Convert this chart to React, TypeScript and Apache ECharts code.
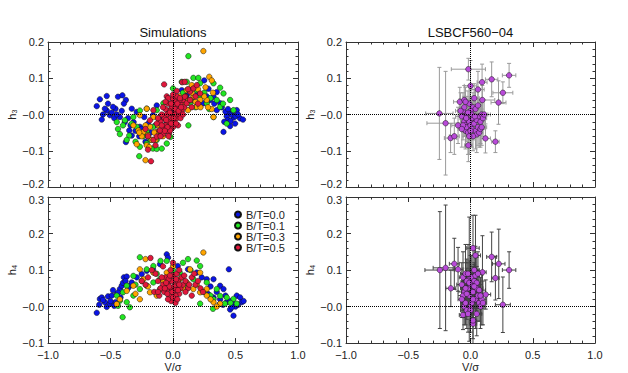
import React, { useEffect, useRef } from "react";
import * as echarts from "echarts";

type P = [number, number];
type E = [number, number, number, number];

const seriesNames = ["B/T=0.0", "B/T=0.1", "B/T=0.3", "B/T=0.5"];
const seriesColors = ["#0a14e6", "#22e622", "#ffa500", "#e0183c"];
const obsColor = "#b84ad8";
const xTicks = [-1, -0.5, 0, 0.5, 1];
const h3Range = [-0.2, 0.2];
const h4Range = [-0.1, 0.3];

// ---- Simulations: h3 vs V/sigma ----
const blueH3: P[] = [
  [-0.61, 0.023], [-0.585, 0.042], [-0.53, 0.051], [-0.44, 0.049], [-0.405, 0.053], [-0.377, 0.04], [-0.393, 0.03],
  [-0.46, 0.016], [-0.53, 0.011], [-0.56, 0.0], [-0.57, -0.014], [-0.505, -0.002], [-0.48, 0.021], [-0.545, 0.016],
  [-0.425, -0.007], [-0.385, -0.021], [-0.377, -0.076], [-0.33, -0.058], [-0.33, 0.016], [-0.29, 0.007], [-0.265, -0.034],
  [-0.21, -0.058], [-0.2, -0.025], [-0.16, -0.002], [-0.13, 0.025], [-0.315, -0.021], [-0.35, -0.044], [-0.23, -0.007],
  [-0.52, 0.03], [-0.49, 0.005], [-0.47, -0.01], [-0.45, 0.0], [-0.41, 0.01], [-0.36, -0.01], [-0.34, -0.03], [-0.3, -0.045],
  [-0.27, -0.06], [-0.25, -0.04], [-0.22, -0.075], [-0.18, -0.05], [-0.14, -0.03], [-0.1, -0.01],
  [0.51, 0.012], [0.457, 0.003], [0.485, -0.008], [0.537, -0.011], [0.56, -0.014], [0.497, -0.025], [0.457, -0.032],
  [0.404, -0.048], [0.43, -0.005], [0.47, 0.0], [0.35, 0.012], [0.378, 0.031], [0.324, 0.049], [0.35, 0.062],
  [0.284, 0.071], [0.25, 0.094], [0.297, 0.04], [0.244, 0.031], [0.163, 0.04], [0.11, 0.053], [0.07, 0.067],
  [0.44, -0.015], [0.42, 0.008], [0.46, -0.018], [0.5, -0.005], [0.52, 0.0], [0.48, 0.01], [0.39, 0.02], [0.41, -0.02],
  [0.44, 0.015], [0.33, 0.03], [0.27, 0.05], [0.2, 0.06], [0.15, 0.07], [0.05, 0.03], [-0.05, -0.02], [0.0, 0.01],
];
const greenH3: P[] = [
  [0.123, 0.161], [0.163, 0.101], [0.203, 0.101], [0.324, 0.086], [0.377, 0.074], [0.404, 0.058], [0.457, 0.04],
  [0.484, 0.012], [0.43, -0.025], [0.324, -0.007], [0.27, 0.031], [0.217, 0.049], [0.136, 0.031], [0.11, 0.09],
  [0.07, 0.09], [0.0, 0.072], [0.123, -0.03], [-0.077, 0.031], [-0.13, 0.012], [-0.21, 0.016], [-0.265, 0.011],
  [-0.317, -0.007], [-0.385, -0.016], [-0.45, -0.021], [-0.44, -0.04], [-0.425, -0.054], [-0.35, -0.058], [-0.37, -0.07],
  [-0.29, -0.034], [-0.265, -0.089], [-0.27, -0.115], [-0.21, -0.08], [-0.16, -0.094], [-0.13, -0.095], [-0.09, -0.094],
  [-0.13, -0.07], [-0.21, -0.048], [-0.16, -0.034], [-0.33, -0.025], [-0.05, -0.08], [-0.02, -0.062], [0.027, 0.0],
  [0.054, 0.018], [0.217, 0.086], [0.377, 0.021], [0.19, 0.067], [0.25, 0.06], [0.3, 0.045], [0.35, 0.04], [0.4, 0.03],
  [0.29, 0.015], [0.18, 0.02], [0.1, 0.05], [-0.24, -0.06], [-0.18, -0.07], [-0.3, -0.075], [-0.4, -0.03], [-0.1, -0.05],
  [-0.06, -0.03], [0.08, 0.06],
];
const orangeH3: P[] = [
  [0.243, 0.175], [0.29, 0.104], [0.31, 0.094], [0.15, 0.081], [0.27, 0.04], [0.217, 0.04], [0.163, 0.049], [0.11, 0.067],
  [0.19, 0.021], [0.324, -0.007], [0.31, 0.015], [0.08, 0.031], [0.12, 0.012], [-0.21, 0.016], [-0.265, -0.002],
  [-0.317, -0.03], [-0.277, -0.044], [-0.237, -0.048], [-0.2, -0.057], [-0.21, -0.085], [-0.22, -0.126], [-0.29, -0.082],
  [-0.17, -0.07], [-0.13, -0.048], [-0.104, -0.021], [-0.064, -0.007], [0.0, 0.021], [-0.117, -0.012], [-0.157, -0.007],
  [-0.037, -0.03], [-0.077, -0.039], [-0.184, -0.034], [0.2, 0.07], [0.25, 0.05], [0.28, 0.02], [0.14, 0.04], [0.05, 0.05],
  [0.32, 0.06], [-0.15, -0.05], [-0.25, -0.06], [-0.19, -0.09], [-0.08, -0.06], [0.03, 0.03], [0.0, -0.01], [-0.03, 0.01],
  [0.15, 0.06], [0.18, 0.035], [0.22, 0.02], [0.26, 0.075], [0.1, 0.04], [0.06, 0.02], [-0.12, -0.03], [-0.22, -0.03],
  [-0.27, -0.05], [-0.14, -0.07], [-0.06, -0.045],
];
const redH3: P[] = [
  [0, 0], [0.02, 0.01], [-0.02, -0.01], [0.04, 0.02], [-0.04, -0.02], [0.01, -0.02], [-0.01, 0.02], [0.03, -0.01],
  [-0.03, 0.01], [0.05, 0.0], [-0.05, 0.0], [0.0, 0.035], [0.0, -0.035], [0.06, 0.03], [-0.06, -0.03], [0.07, 0.01],
  [-0.07, -0.01], [0.02, 0.04], [-0.02, -0.04], [0.04, -0.03], [-0.04, 0.03], [0.08, 0.04], [-0.08, -0.04], [-0.1, -0.02],
  [0.09, 0.02], [-0.11, -0.045], [0.1, 0.05], [-0.09, 0.0], [0.06, -0.01], [-0.06, 0.015], [0.03, 0.05], [-0.03, -0.05],
  [0.01, 0.0], [-0.015, -0.025], [0.025, 0.025], [-0.071, 0.083], [0.074, 0.089], [0.094, 0.09], [-0.176, -0.129],
  [-0.2, -0.097], [-0.157, -0.07], [-0.13, -0.061], [-0.077, -0.053], [-0.024, -0.044], [0.094, 0.049], [0.136, 0.063],
  [0.163, 0.072], [0.19, 0.081], [0.217, 0.058], [0.11, 0.031], [0.054, 0.04], [0.136, 0.04], [-0.157, 0.012],
  [-0.184, -0.016], [-0.13, -0.025], [-0.104, -0.044], [0.15, 0.02], [0.18, 0.05], [-0.2, -0.06], [-0.22, -0.04],
  [0.12, 0.07], [-0.14, -0.085], [0.2, 0.03], [-0.05, 0.05],
  [0.015, 0.015], [-0.025, 0.005], [0.035, 0.03], [-0.045, -0.035], [0.045, 0.01], [-0.055, -0.015], [0.005, -0.01],
  [-0.005, 0.045], [0.055, 0.045], [-0.065, -0.045], [0.065, 0.02], [-0.035, -0.06], [-0.09, -0.03], [-0.12, -0.01],
  [0.025, -0.025], [-0.015, 0.03], [-0.08, 0.02], [0.08, 0.0], [-0.1, -0.06], [0.03, 0.065], [-0.04, 0.045],
  [0.0, 0.055], [-0.06, 0.035],
];

// ---- Simulations: h4 vs V/sigma ----
const blueH4: P[] = [
  [-0.61, -0.017], [-0.585, 0.021], [-0.57, 0.025], [-0.545, 0.012], [-0.53, -0.001], [-0.505, 0.008], [-0.46, 0.012],
  [-0.45, 0.034], [-0.425, 0.048], [-0.41, 0.057], [-0.393, 0.08], [-0.37, 0.082], [-0.345, 0.057], [-0.33, 0.066],
  [-0.29, 0.08], [-0.25, 0.089], [-0.21, 0.098], [-0.16, 0.102], [-0.104, 0.116], [-0.05, 0.143], [-0.04, 0.134],
  [0.038, 0.111], [0.12, 0.102], [0.19, 0.093], [0.23, 0.08], [0.27, 0.075], [0.324, 0.075], [0.377, 0.057],
  [0.404, 0.048], [0.447, 0.102], [0.377, 0.02], [0.43, 0.012], [0.484, 0.008], [0.51, 0.03], [0.537, 0.025],
  [0.55, 0.012], [0.565, 0.015], [0.484, -0.025], [0.457, -0.008], [0.377, 0.008], [0.324, 0.025], [-0.59, 0.005],
  [-0.56, 0.018], [-0.52, 0.028], [-0.49, 0.03], [-0.48, 0.045], [-0.44, 0.038], [-0.42, 0.025], [-0.4, 0.065],
  [-0.38, 0.07], [-0.36, 0.05], [-0.5, 0.015], [-0.47, 0.002], [0.5, 0.0], [0.52, 0.005], [0.46, 0.015], [0.42, 0.03],
  [0.4, 0.005], [0.35, 0.04], [0.3, 0.055], [0.28, 0.035], [0.47, -0.002],
];
const greenH4: P[] = [
  [-0.403, -0.029], [-0.265, 0.135], [0.12, 0.13], [0.19, 0.126], [0.217, 0.111], [0.32, -0.006], [0.217, 0.008],
  [0.324, 0.02], [0.377, 0.029], [0.43, 0.025], [0.484, 0.021], [0.51, 0.008], [0.415, 0.008], [0.35, 0.048],
  [0.27, 0.066], [0.163, 0.075], [0.054, 0.093], [-0.05, 0.125], [-0.1, 0.125], [-0.157, 0.111], [-0.21, 0.102],
  [-0.317, 0.084], [-0.37, 0.057], [-0.4, 0.039], [-0.425, 0.016], [-0.44, 0.002], [-0.37, 0.012], [-0.317, 0.03],
  [-0.265, 0.048], [-0.21, 0.057], [-0.157, 0.066], [-0.104, 0.075], [-0.345, -0.002], [-0.45, 0.03], [0.0, 0.1],
  [0.08, 0.12], [0.25, 0.04], [0.3, 0.03], [0.46, 0.01], [-0.25, 0.07], [-0.3, 0.06], [-0.13, 0.09], [0.1, 0.06],
  [0.14, 0.1], [-0.06, 0.06],
];
const orangeH4: P[] = [
  [0.243, 0.148], [-0.22, 0.13], [-0.265, 0.102], [-0.157, 0.093], [-0.317, 0.057], [-0.37, 0.043], [-0.425, 0.02],
  [-0.45, 0.007], [-0.265, 0.02], [-0.184, 0.039], [-0.104, 0.048], [0.27, 0.03], [0.324, 0.012], [0.377, 0.008],
  [0.217, 0.039], [0.163, 0.048], [0.11, 0.066], [0.054, 0.075], [0.217, 0.093], [0.136, 0.102], [0.0, 0.111],
  [-0.05, 0.093], [0.27, 0.048], [-0.237, 0.075], [-0.13, 0.03], [-0.3, 0.035], [0.3, 0.02], [0.19, 0.06],
  [-0.2, 0.055], [-0.08, 0.07], [0.08, 0.05], [0.35, 0.0],
];
const redH4: P[] = [
  [-0.02, 0.05], [0, 0.04], [0.02, 0.06], [-0.04, 0.06], [-0.03, 0.03], [0.01, 0.02], [0.03, 0.05], [-0.05, 0.045],
  [-0.01, 0.07], [0.04, 0.07], [-0.06, 0.08], [0.0, 0.085], [0.05, 0.035], [-0.07, 0.04], [0.02, 0.03], [-0.015, 0.015],
  [0.01, 0.055], [-0.035, 0.075], [0.06, 0.05], [-0.08, 0.06], [0.03, 0.09], [-0.02, 0.1], [0.07, 0.08], [-0.1, 0.05],
  [0.08, 0.06], [-0.12, 0.07], [0.1, 0.07], [-0.14, 0.09], [0.12, 0.05], [-0.15, 0.04], [0.15, 0.08], [-0.18, 0.133],
  [0.18, 0.06], [-0.2, 0.08], [0.2, 0.07], [0.22, 0.05], [-0.22, 0.06], [0.05, 0.1], [-0.08, 0.11], [0.0, 0.12],
  [0.15, 0.03], [-0.11, 0.03], [0.1, 0.04], [0.17, 0.09], [-0.17, 0.1], [0.02, 0.01], [-0.04, 0.02], [-0.25, 0.07],
  [0.24, 0.04], [-0.03, 0.055], [0.015, 0.045], [-0.045, 0.035], [0.025, 0.075], [-0.005, 0.04], [-0.055, 0.065],
  [0.04, 0.045], [-0.025, 0.085], [0.0, 0.025], [-0.065, 0.05], [0.05, 0.06], [0.035, 0.02], [-0.09, 0.08],
  [0.09, 0.085], [-0.12, 0.04], [0.13, 0.06],
];

// ---- LSBCF560-04: [V/sigma, h, err V/sigma, err h] ----
const obsH3: E[] = [
  [-0.25, 0.003, 0.11, 0.127], [-0.2, -0.024, 0.15, 0.143], [-0.16, -0.065, 0.05, 0.04], [-0.13, -0.06, 0.04, 0.05],
  [-0.1, -0.03, 0.05, 0.05], [-0.017, 0.125, 0.137, 0.03], [0.31, 0.108, 0.054, 0.033], [0.17, 0.097, 0.05, 0.048],
  [0.26, 0.06, 0.08, 0.03], [0.225, 0.033, 0.06, 0.06], [0.093, 0.089, 0.04, 0.05], [0.06, 0.069, 0.05, 0.05],
  [0.0, 0.079, 0.05, 0.07], [-0.017, -0.085, 0.03, 0.045], [0.12, -0.066, 0.04, 0.04], [0.2, -0.075, 0.03, 0.03],
  [0.095, 0.04, 0.1, 0.04], [-0.086, 0.035, 0.05, 0.04], [-0.05, 0.04, 0.04, 0.04],
  [-0.07, -0.005, 0.05, 0.04], [-0.06, 0.01, 0.04, 0.05], [-0.05, -0.02, 0.03, 0.04], [-0.04, -0.03, 0.05, 0.06],
  [-0.05, 0.02, 0.04, 0.03], [-0.03, 0.0, 0.03, 0.05], [-0.02, -0.015, 0.04, 0.04], [-0.04, -0.045, 0.03, 0.05],
  [-0.03, -0.035, 0.05, 0.04], [-0.02, -0.05, 0.04, 0.06], [-0.01, -0.02, 0.03, 0.05], [0.0, -0.03, 0.04, 0.04],
  [0.01, -0.04, 0.05, 0.05], [0.02, -0.01, 0.03, 0.06], [0.03, -0.025, 0.04, 0.04], [0.04, -0.045, 0.03, 0.05],
  [0.05, -0.015, 0.05, 0.04], [0.06, -0.035, 0.04, 0.05], [0.07, -0.005, 0.03, 0.04], [0.08, -0.02, 0.04, 0.06],
  [0.09, 0.0, 0.05, 0.04], [0.1, -0.01, 0.03, 0.05], [0.02, 0.02, 0.04, 0.04], [0.04, 0.015, 0.05, 0.05],
  [0.06, 0.025, 0.03, 0.04], [0.0, 0.01, 0.04, 0.06], [-0.01, 0.03, 0.03, 0.05], [0.03, 0.045, 0.04, 0.04],
  [0.05, -0.055, 0.03, 0.05], [0.02, -0.06, 0.04, 0.04], [-0.01, -0.06, 0.05, 0.05], [0.07, -0.05, 0.03, 0.04],
  [0.08, -0.04, 0.04, 0.05], [-0.06, -0.03, 0.05, 0.04], [-0.08, 0.01, 0.04, 0.05], [-0.04, 0.035, 0.03, 0.04],
  [0.01, 0.0, 0.04, 0.05], [-0.02, 0.005, 0.03, 0.06], [0.035, -0.005, 0.04, 0.04], [-0.035, -0.01, 0.05, 0.05],
  [0.0, -0.045, 0.03, 0.04], [0.09, -0.035, 0.04, 0.05], [0.11, 0.0, 0.05, 0.04], [-0.07, -0.04, 0.03, 0.05],
];
const obsH4: E[] = [
  [-0.246, 0.1, 0.12, 0.16], [-0.2, 0.106, 0.1, 0.172], [-0.13, 0.117, 0.04, 0.07], [-0.1, 0.102, 0.04, 0.06],
  [-0.158, 0.05, 0.04, 0.05], [0.02, 0.16, 0.05, 0.09], [0.04, 0.14, 0.04, 0.11], [0.17, 0.136, 0.04, 0.068],
  [0.227, 0.117, 0.05, 0.095], [0.31, 0.1, 0.054, 0.05], [0.2, 0.078, 0.03, 0.06], [0.096, 0.094, 0.03, 0.1],
  [0.26, 0.005, 0.06, 0.076], [0.02, -0.047, 0.03, 0.06], [0.02, -0.038, 0.03, 0.05], [-0.06, -0.023, 0.03, 0.04],
  [0.122, 0.033, 0.04, 0.04], [-0.01, 0.075, 0.05, 0.17],
  [-0.07, 0.06, 0.04, 0.06], [-0.06, 0.08, 0.03, 0.07], [-0.05, 0.04, 0.05, 0.05], [-0.04, 0.09, 0.04, 0.08],
  [-0.03, 0.07, 0.03, 0.06], [-0.02, 0.05, 0.05, 0.07], [-0.01, 0.03, 0.04, 0.05], [0.0, 0.06, 0.03, 0.08],
  [0.01, 0.08, 0.04, 0.06], [0.02, 0.04, 0.05, 0.07], [0.03, 0.07, 0.03, 0.05], [0.04, 0.02, 0.04, 0.08],
  [0.05, 0.05, 0.05, 0.06], [0.06, 0.03, 0.03, 0.07], [0.07, 0.01, 0.04, 0.05], [0.08, 0.0, 0.03, 0.06],
  [0.09, 0.02, 0.04, 0.07], [-0.05, 0.0, 0.03, 0.05], [-0.04, 0.01, 0.04, 0.06], [-0.03, -0.01, 0.05, 0.05],
  [0.0, 0.0, 0.03, 0.07], [0.01, 0.01, 0.04, 0.06], [-0.02, 0.09, 0.03, 0.08], [0.03, 0.1, 0.04, 0.06],
  [0.05, 0.065, 0.03, 0.07], [0.07, 0.045, 0.05, 0.05], [-0.06, 0.03, 0.04, 0.06], [-0.07, 0.02, 0.03, 0.05],
  [0.02, 0.02, 0.04, 0.07], [-0.01, 0.065, 0.05, 0.06], [0.04, 0.085, 0.03, 0.08], [0.06, 0.09, 0.04, 0.06],
  [0.08, 0.03, 0.05, 0.05], [0.1, 0.01, 0.03, 0.06], [-0.03, 0.035, 0.04, 0.07], [0.0, -0.01, 0.03, 0.05],
  [0.05, -0.02, 0.04, 0.06], [-0.02, -0.02, 0.03, 0.05], [0.03, 0.055, 0.05, 0.06], [-0.04, 0.05, 0.04, 0.07],
];

const FONT = "'Liberation Sans', Arial, Helvetica, sans-serif";
const AX = "#333";

const minus = (s: string) => s.replace("-", "\u2212");
const fmtX = (v: number) => (Math.abs(v) < 1e-9 ? "0.0" : minus(v.toFixed(1)));
const fmtY = (v: number) => (Math.abs(v) < 1e-9 ? "\u22120.0" : minus(v.toFixed(1)));

function xAxesFor(g: number, labels: boolean) {
  const common = {
    type: "value", gridIndex: g, min: xTicks[0], max: xTicks[xTicks.length - 1], interval: 0.5,
    axisLine: { show: true, onZero: false, lineStyle: { color: AX, width: 1 } },
    axisTick: { show: true, inside: true, length: 5, lineStyle: { color: AX } },
    minorTick: { show: true, splitNumber: 5, length: 2.5, lineStyle: { color: AX } },
    splitLine: { show: false },
  };
  return [
    {
      ...common, position: "bottom",
      axisLabel: { show: labels, formatter: fmtX, margin: 6, fontSize: 11, color: "#222", fontFamily: FONT },
      name: labels ? "V/\u03c3" : "", nameLocation: "middle", nameGap: 16,
      nameTextStyle: { fontSize: 11, color: "#222", fontFamily: FONT },
    },
    { ...common, position: "top", axisLabel: { show: false } },
  ];
}
function yAxesFor(g: number, range: number[], name: string, upper: boolean) {
  const common = {
    type: "value", gridIndex: g, min: range[0], max: range[1], interval: 0.1,
    axisLine: { show: true, onZero: false, lineStyle: { color: AX, width: 1 } },
    axisTick: { show: true, inside: true, length: 5, lineStyle: { color: AX } },
    minorTick: { show: true, splitNumber: 5, length: 2.5, lineStyle: { color: AX } },
    splitLine: { show: false },
  };
  const fmt = (v: number) => {
    const s = fmtY(v);
    if (upper && Math.abs(v - range[0]) < 1e-9) return "{lo|" + s + "}";
    if (!upper && Math.abs(v - range[1]) < 1e-9) return "{hi|" + s + "}";
    return s;
  };
  return [
    {
      ...common, position: "left",
      axisLabel: {
        formatter: fmt, margin: 4, fontSize: 11, color: "#222", fontFamily: FONT,
        rich: {
          lo: { fontSize: 11, color: "#222", fontFamily: FONT, padding: [0, 0, 6, 0] },
          hi: { fontSize: 11, color: "#222", fontFamily: FONT, padding: [6, 0, 0, 0] },
        },
      },
      name, nameLocation: "middle", nameGap: 31, nameRotate: 90,
      nameTextStyle: { fontSize: 11, color: "#222", fontFamily: FONT },
    },
    { ...common, position: "right", axisLabel: { show: false } },
  ];
}

const zeroLines = {
  silent: true, symbol: "none", label: { show: false },
  lineStyle: { type: "dotted", color: "#000", width: 1 },
  data: [{ xAxis: 0 }, { yAxis: 0 }],
};

function simSeries(g: number, sets: P[][]) {
  return sets.map((d, i) => ({
    type: "scatter", name: seriesNames[i], xAxisIndex: g * 2, yAxisIndex: g * 2, data: d,
    symbol: "circle", symbolSize: 5.5,
    itemStyle: { color: seriesColors[i], borderColor: "#111", borderWidth: 0.5, opacity: 1 },
    ...(i === 0 ? { markLine: zeroLines } : {}),
  }));
}

function errSeries(g: number, d: E[], color: string) {
  return {
    type: "custom", xAxisIndex: g * 2, yAxisIndex: g * 2, data: d, clip: true,
    encode: { x: 0, y: 1 },
    markLine: zeroLines,
    renderItem: (_p: any, api: any) => {
      const x = api.value(0), y = api.value(1), xe = api.value(2), ye = api.value(3);
      const c = api.coord([x, y]);
      const l = api.coord([x - xe, y]);
      const r = api.coord([x + xe, y]);
      const t = api.coord([x, y + ye]);
      const b = api.coord([x, y - ye]);
      const cap = 2;
      const st = { stroke: color, lineWidth: 1 };
      return {
        type: "group",
        children: [
          { type: "line", shape: { x1: l[0], y1: c[1], x2: r[0], y2: c[1] }, style: st },
          { type: "line", shape: { x1: c[0], y1: t[1], x2: c[0], y2: b[1] }, style: st },
          { type: "line", shape: { x1: l[0], y1: c[1] - cap, x2: l[0], y2: c[1] + cap }, style: st },
          { type: "line", shape: { x1: r[0], y1: c[1] - cap, x2: r[0], y2: c[1] + cap }, style: st },
          { type: "line", shape: { x1: c[0] - cap, y1: t[1], x2: c[0] + cap, y2: t[1] }, style: st },
          { type: "line", shape: { x1: c[0] - cap, y1: b[1], x2: c[0] + cap, y2: b[1] }, style: st },
        ],
      };
    },
  };
}
function obsSeries(g: number, d: E[]) {
  return {
    type: "scatter", xAxisIndex: g * 2, yAxisIndex: g * 2, data: d.map((e) => [e[0], e[1]]),
    symbol: "circle", symbolSize: 5.5,
    itemStyle: { color: obsColor, borderColor: "#111", borderWidth: 0.5, opacity: 1 },
  };
}

export default function App() {
  const ref = useRef<HTMLDivElement>(null);
  useEffect(() => {
    if (!ref.current) return;
    const chart = echarts.init(ref.current, undefined, { renderer: "svg" });
    const grids = [
      { left: 48, top: 42, width: 250, height: 145 },
      { left: 48, top: 197, width: 250, height: 147 },
      { left: 346, top: 42, width: 249, height: 145 },
      { left: 346, top: 197, width: 249, height: 147 },
    ];
    chart.setOption({
      animation: false,
      backgroundColor: "#fff",
      textStyle: { fontFamily: FONT },
      grid: grids.map((g) => ({ ...g, containLabel: false })),
      xAxis: [...xAxesFor(0, false), ...xAxesFor(1, true), ...xAxesFor(2, false), ...xAxesFor(3, true)],
      yAxis: [
        ...yAxesFor(0, h3Range, "h\u2083", true),
        ...yAxesFor(1, h4Range, "h\u2084", false),
        ...yAxesFor(2, h3Range, "h\u2083", true),
        ...yAxesFor(3, h4Range, "h\u2084", false),
      ],
      legend: {
        show: true, data: seriesNames, orient: "vertical", left: 234, top: 209,
        icon: "circle", itemWidth: 6, itemHeight: 6, itemGap: 0, selectedMode: false, padding: 0,
        textStyle: { fontSize: 11, lineHeight: 10, color: "#222", fontFamily: FONT },
      },
      graphic: [
        { type: "text", x: 173, y: 32, style: { text: "Simulations", fontSize: 13, fontFamily: FONT, fill: "#111", textAlign: "center", textVerticalAlign: "middle" } },
        { type: "text", x: 470.5, y: 32, style: { text: "LSBCF560\u221204", fontSize: 13, fontFamily: FONT, fill: "#111", textAlign: "center", textVerticalAlign: "middle" } },
      ],
      series: [
        ...simSeries(0, [blueH3, greenH3, orangeH3, redH3]),
        ...simSeries(1, [blueH4, greenH4, orangeH4, redH4]),
        errSeries(2, obsH3, "#9a9a9a"),
        obsSeries(2, obsH3),
        errSeries(3, obsH4, "#444"),
        obsSeries(3, obsH4),
      ],
    });
    return () => chart.dispose();
  }, []);
  return <div ref={ref} style={{ position: "fixed", left: 0, top: 0, width: 628, height: 373 }} />;
}
